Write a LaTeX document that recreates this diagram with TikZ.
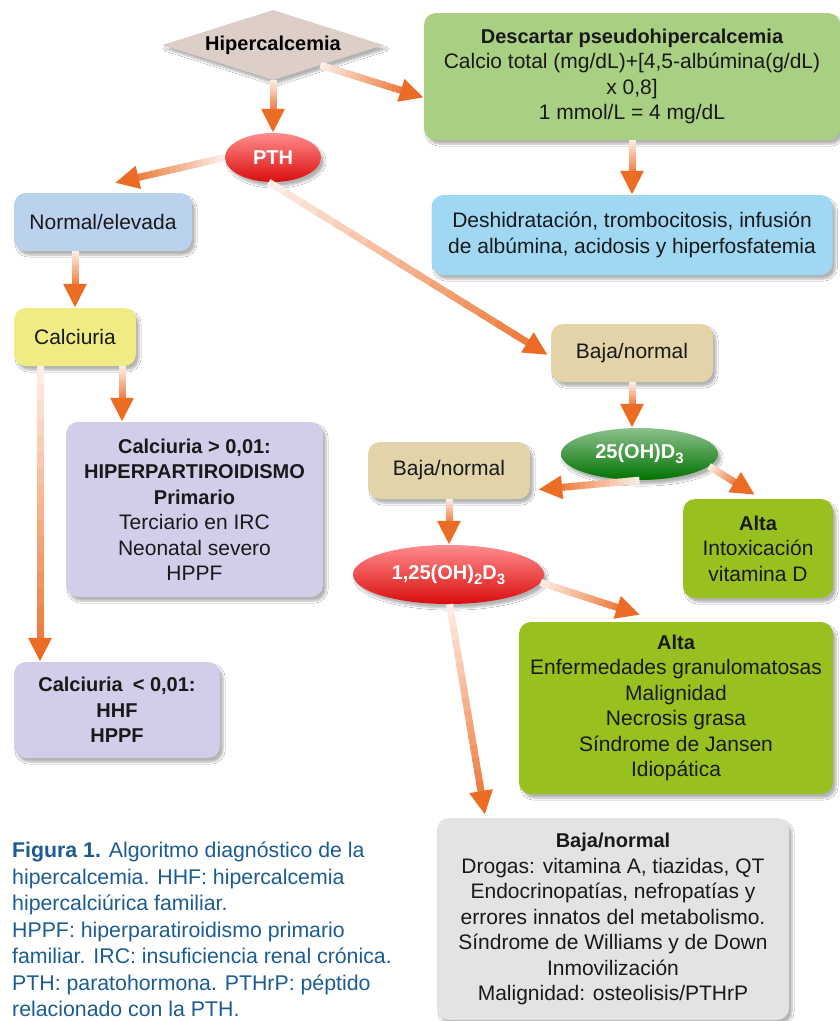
\documentclass[tikz,border=0pt]{standalone}
\usepackage{fontspec}
\setmainfont{Liberation Sans}
\usetikzlibrary{shapes.geometric,arrows.meta,calc,shadows.blur}

\definecolor{naranja}{RGB}{236,108,38}
\definecolor{rombo}{RGB}{221,206,199}
\definecolor{verdeclaro}{RGB}{169,207,131}
\definecolor{celeste}{RGB}{160,216,244}
\definecolor{azulclaro}{RGB}{186,210,238}
\definecolor{amarillo}{RGB}{240,235,130}
\definecolor{lila}{RGB}{210,205,232}
\definecolor{arena}{RGB}{226,212,168}
\definecolor{pistacho}{RGB}{152,193,32}
\definecolor{grisclaro}{RGB}{227,227,227}
\definecolor{azulpie}{RGB}{28,92,146}

\tikzset{
  sombra/.style={blur shadow={shadow xshift=3pt,shadow yshift=-4pt,shadow opacity=30,shadow blur steps=6}},
  caja/.style={rectangle,rounded corners=12pt,inner sep=0pt,align=center,
    font=\fontsize{21}{25.5}\selectfont,text=black!90,sombra},
  ovalo/.style={ellipse,inner sep=0pt,text=white,font=\bfseries\fontsize{20}{24}\selectfont,sombra},
  punta/.style={-{Triangle[width=22pt,length=24pt]},naranja,line width=7pt},
}
\newcommand\bajo[1]{\raisebox{-0.45ex}{\fontsize{15}{15}\selectfont#1}}
\newcommand\negra[1]{{\bfseries\fontsize{20}{25.5}\selectfont#1}}
% flecha con degradado: claro al salir, naranja en la punta
\newcommand\flecha[2]{%
  \coordinate (fb) at ($(#2)!22pt!(#1)$);
  \foreach \k in {1,...,16}{%
    \pgfmathsetmacro\tono{8+5*\k}
    \draw[line width=7pt,naranja!\tono!white] ($(#1)!{(\k-1)/16}!(fb)$) -- ($(#1)!{(\k+0.3)/16}!(fb)$);
  }
  \draw[punta] ($(#2)!24pt!(#1)$) -- (#2);
}

\begin{document}
\begin{tikzpicture}[x=1pt,y=-1pt]
  \useasboundingbox[fill=white] (0,0) rectangle (840,1021);
  % columna superior
  \node[diamond,aspect=3.16,minimum width=221pt,minimum height=70pt,inner sep=0pt,fill=rombo,
    font=\bfseries\fontsize{20}{24}\selectfont,sombra] (hiper) at (273,45) {Hipercalcemia};
  \node[caja,fill=verdeclaro,minimum width=416pt,minimum height=127pt] (desc) at (632,76.5)
    {\negra{Descartar pseudohipercalcemia}\\Calcio total (mg/dL)+[4,5-albúmina(g/dL)\\x 0,8]\\1 mmol/L = 4 mg/dL};
  \node[caja,fill=celeste,minimum width=401pt,minimum height=80pt] (deshid) at (632,235)
    {Deshidratación, trombocitosis, infusión\\de albúmina, acidosis y hiperfosfatemia};
  \node[ovalo,top color=red!45!white,bottom color=red!85!black!95,minimum width=96pt,minimum height=49pt] (pth) at (273,157.5) {PTH};
  % rama izquierda
  \node[caja,fill=azulclaro,minimum width=178pt,minimum height=58pt] (normal) at (103,222) {Normal/elevada};
  \node[caja,fill=amarillo,minimum width=122pt,minimum height=58pt] (calc) at (75,337) {Calciuria};
  \node[caja,fill=lila,minimum width=257pt,minimum height=175pt] (mayor) at (194.5,509.5)
    {\negra{Calciuria > 0,01:}\\\negra{HIPERPARTIROIDISMO}\\\negra{Primario}\\Terciario en IRC\\Neonatal severo\\HPPF};
  \node[caja,fill=lila,minimum width=206pt,minimum height=96pt,font=\bfseries\fontsize{20}{25.5}\selectfont] (menor) at (117,710)
    {Calciuria\enspace< 0,01:\\HHF\\HPPF};
  % rama derecha
  \node[caja,fill=arena,minimum width=162pt,minimum height=58pt] (bajaA) at (632,353) {Baja/normal};
  \node[ovalo,top color=green!45!black!45!white,bottom color=green!45!black,minimum width=157pt,minimum height=52pt] (d25) at (639.5,454) {25(OH)D\bajo{3}};
  \node[caja,fill=arena,minimum width=162pt,minimum height=57pt] (bajaB) at (449,470.5) {Baja/normal};
  \node[caja,fill=pistacho,minimum width=150pt,minimum height=99pt] (alta1) at (758,548.5)
    {\negra{Alta}\\Intoxicación\\vitamina D};
  \node[ovalo,top color=red!45!white,bottom color=red!85!black!95,minimum width=191pt,minimum height=59pt] (d125) at (448.5,574.5) {1,25(OH)\bajo{2}D\bajo{3}};
  \node[caja,fill=pistacho,minimum width=314pt,minimum height=172pt] (altaB) at (676,708)
    {\negra{Alta}\\Enfermedades granulomatosas\\Malignidad\\Necrosis grasa\\Síndrome de Jansen\\Idiopática};
  \node[caja,fill=grisclaro,minimum width=352pt,minimum height=202pt] (bajaC) at (613,919)
    {\negra{Baja/normal}\\Drogas: vitamina A, tiazidas, QT\\Endocrinopatías, nefropatías y\\errores innatos del metabolismo.\\Síndrome de Williams y de Down\\Inmovilización\\Malignidad: osteolisis/PTHrP};
  % pie de figura
  \node[anchor=north west,inner sep=0pt,align=left,text=azulpie,font=\fontsize{21.3}{26.5}\selectfont] (pie) at (12,842)
    {\textbf{Figura 1.} Algoritmo diagnóstico de la\\hipercalcemia. HHF: hipercalcemia\\hipercalciúrica familiar.\\HPPF: hiperparatiroidismo primario\\familiar. IRC: insuficiencia renal crónica.\\PTH: paratohormona. PTHrP: péptido\\relacionado con la PTH.};
  % extremos de las flechas
  \coordinate (ePth) at (hiper.south |- pth.north);
  \coordinate (eDesc) at ([yshift=-21pt]desc.west);
  \coordinate (eNormal) at ([xshift=12pt,yshift=10pt]normal.north);
  \coordinate (eBajaA) at ([xshift=-3pt,yshift=-2pt]bajaA.west);
  \coordinate (sCalc) at (calc.north |- normal.south);
  \coordinate (sMayor) at ([xshift=47pt]calc.south);
  \coordinate (eMayor) at (sMayor |- mayor.north);
  \coordinate (sMenor) at ([xshift=-35pt]calc.south);
  \coordinate (eMenor) at (sMenor |- menor.north);
  \coordinate (eD25) at (bajaA.south |- d25.north);
  \coordinate (eBajaB) at ([xshift=8pt,yshift=-19pt]bajaB.east);
  \coordinate (eAlta1) at ([xshift=-3pt,yshift=4pt]alta1.north);
  \coordinate (eD125) at (bajaB.south |- d125.north);
  \coordinate (eAltaB) at ([xshift=-36pt,yshift=7pt]altaB.north);
  \coordinate (eBajaC) at ([xshift=-128pt,yshift=3pt]bajaC.north);
  % flechas
  \flecha{hiper.south}{ePth}
  \flecha{hiper.-23}{eDesc}
  \flecha{desc.south}{deshid.north}
  \flecha{pth.west}{eNormal}
  \flecha{pth.-100}{eBajaA}
  \flecha{sCalc}{calc.north}
  \flecha{sMayor}{eMayor}
  \flecha{sMenor}{eMenor}
  \flecha{bajaA.south}{eD25}
  \flecha{d25.south}{eBajaB}
  \flecha{d25.-10}{eAlta1}
  \flecha{bajaB.south}{eD125}
  \flecha{d125.-5}{eAltaB}
  \flecha{d125.-88}{eBajaC}
\end{tikzpicture}
\end{document}
